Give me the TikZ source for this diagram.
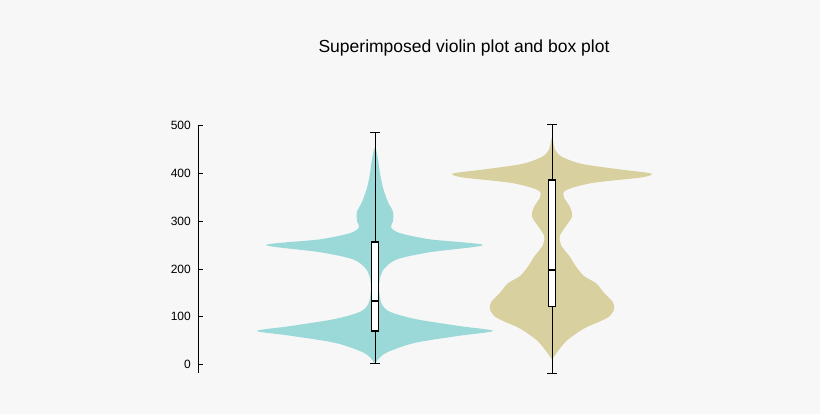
\documentclass[tikz,border=0pt]{standalone}
\usepackage{fontspec}
\setmainfont{Liberation Sans}
\definecolor{bg}{HTML}{F7F7F7}
\definecolor{vcyan}{HTML}{9AD9D8}
\definecolor{vtan}{HTML}{D9D09F}
\begin{document}
\begin{tikzpicture}[x=1pt,y=1pt,
  tick/.style={font=\fontsize{12}{14}\selectfont, anchor=east, inner sep=0pt},
  boxst/.style={draw=black, line width=1.8pt, fill=white},
  whisk/.style={draw=black, line width=0.7pt}]
\fill[bg] (0,0) rectangle (820,414);
\useasboundingbox (0,0) rectangle (820,414);
\node[font=\fontsize{17.5}{20}\selectfont] (title) at (464,366) {Superimposed violin plot and box plot};
% axis
\begin{scope}[shift={(0,49.7)}, yscale=0.477]
\draw[line width=0.7pt] (198,-18) -- (198,500);
\foreach \v in {0,100,...,500}{
  \draw[line width=0.7pt] (198,\v) -- (203,\v);
  \node[tick] (t\v) at (191,\v) {\v};
}
\end{scope}
% violin 1
\begin{scope}[shift={(375,49.7)}, yscale=0.477]
\fill[vcyan] plot[smooth, tension=0.5] coordinates {
(0,0) (3,10) (12,25) (40,45) (85,60) (118,70) (85,80) (40,95) (15,110) (7,125) (5,140) (4,160) (5,180) (9,200) (22,220) (55,235) (108,250) (55,262) (25,275) (16,287) (18,300) (18,320) (13,340) (8,370) (5,400) (3,430) (0,455)
(-3,430) (-5,400) (-8,370) (-13,340) (-18,320) (-18,300) (-16,287) (-25,275) (-55,262) (-109,250) (-55,235) (-22,220) (-9,200) (-5,180) (-4,160) (-5,140) (-7,125) (-15,110) (-40,95) (-85,80) (-118,70) (-85,60) (-40,45) (-12,25) (-3,10) (0,0)} -- cycle;
\coordinate (w1b) at (0,2); \coordinate (w1t) at (0,486);
\draw[whisk] (w1b) -- (w1t);
\draw[whisk] (-5,2) -- (5,2); \draw[whisk] (-5,486) -- (5,486);
\draw[boxst] (-3.5,70) rectangle (3.5,256);
\draw[line width=1.8pt] (-3.5,132) -- (3.5,132);
\end{scope}
% violin 2
\begin{scope}[shift={(552,49.7)}, yscale=0.477]
\fill[vtan] plot[smooth, tension=0.5] coordinates {
(0,10) (5,25) (15,50) (32,75) (48,90) (57,100) (62,115) (61,130) (52,150) (44,170) (32,185) (24,205) (18,225) (9,250) (8,270) (14,290) (20,310) (18,330) (12,350) (14,365) (40,380) (90,392) (99,400) (70,408) (30,420) (10,435) (3,450) (0,475)
(-3,450) (-10,435) (-30,420) (-70,408) (-99,400) (-90,392) (-40,380) (-14,365) (-12,350) (-18,330) (-20,310) (-14,290) (-8,270) (-9,250) (-18,225) (-24,205) (-32,185) (-44,170) (-52,150) (-61,130) (-62,115) (-57,100) (-48,90) (-32,75) (-15,50) (-5,25) (0,10)} -- cycle;
\coordinate (w2b) at (0,-18); \coordinate (w2t) at (0,503);
\draw[whisk] (w2b) -- (w2t);
\draw[whisk] (-5,-18) -- (5,-18); \draw[whisk] (-5,503) -- (5,503);
\draw[boxst] (-3.5,121) rectangle (3.5,386);
\draw[line width=1.8pt] (-3.5,197) -- (3.5,197);
\end{scope}
\end{tikzpicture}
\end{document}
